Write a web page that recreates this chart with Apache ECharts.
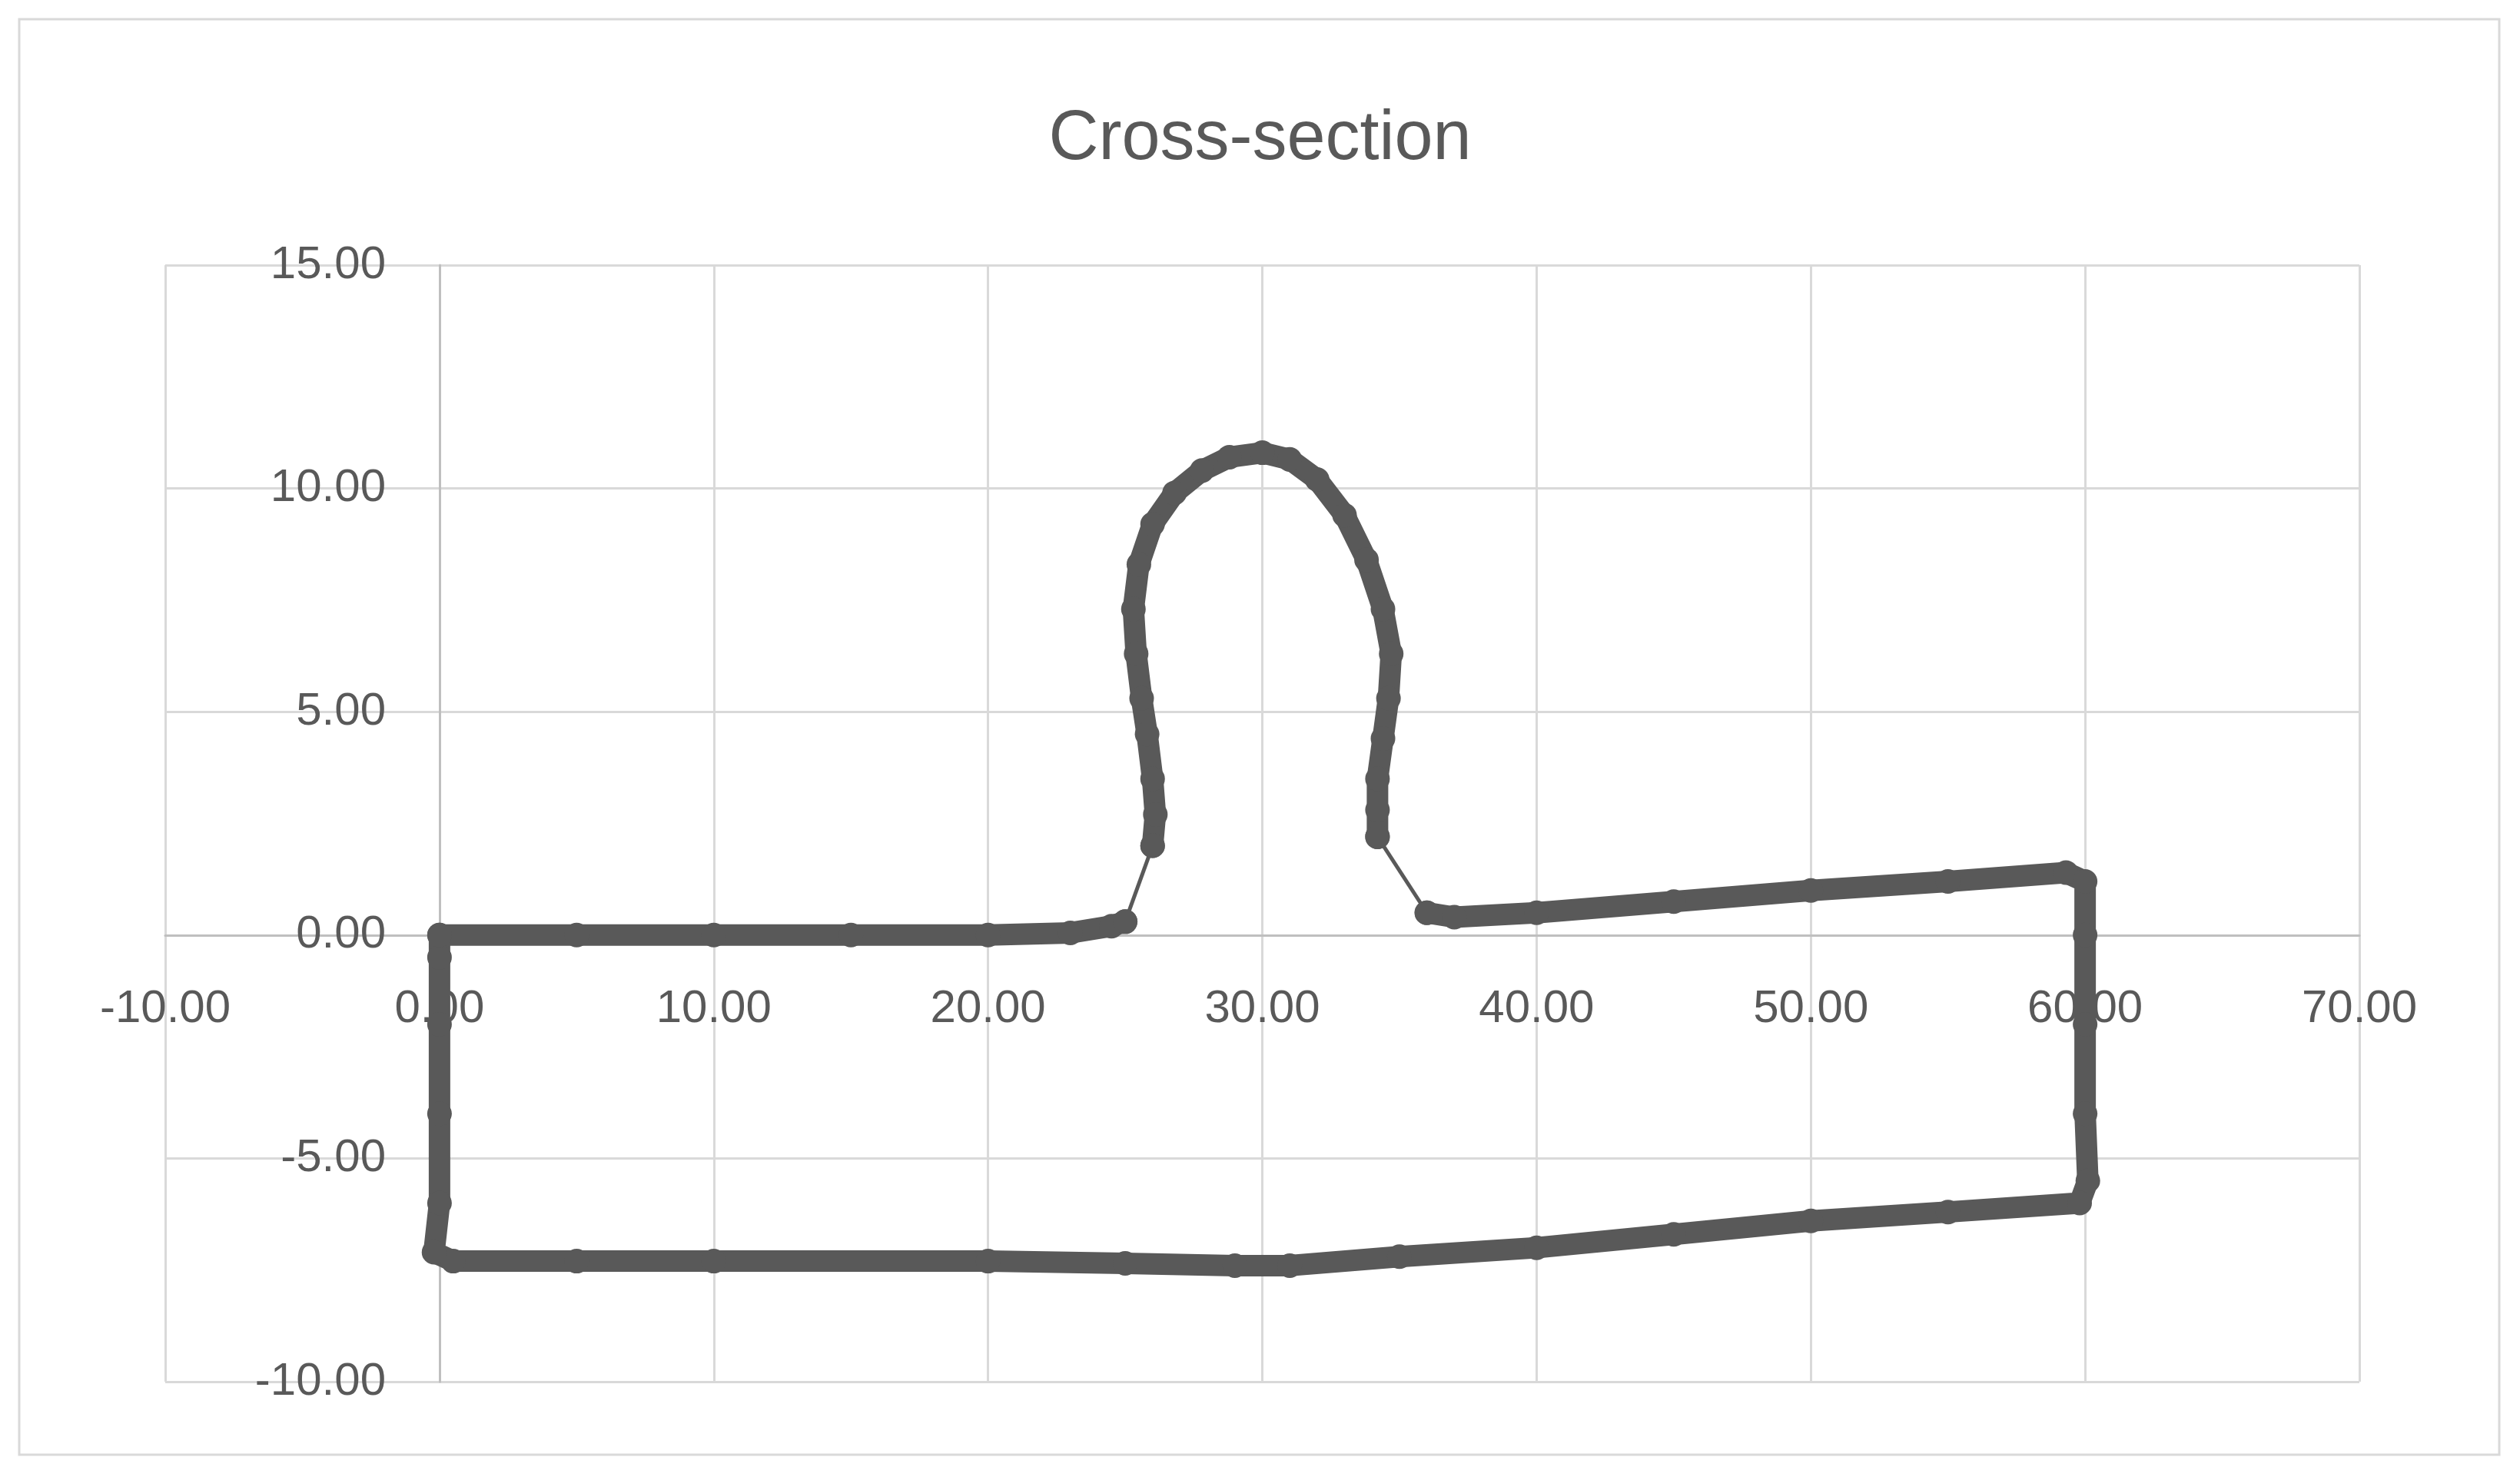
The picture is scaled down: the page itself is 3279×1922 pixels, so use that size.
<!DOCTYPE html>
<html><head><meta charset="utf-8">
<script src="https://cdn.jsdelivr.net/npm/echarts@6/dist/echarts.min.js"></script>
<style>html,body{margin:0;background:#fff}#c{width:3279px;height:1922px}</style>
</head><body><div id="c"></div>
<script>
// cross-section outline, split where the reference shows thin connectors
const flatLeft = [[0,0],[5,0],[10,0],[15,0],[20,0],[23,0.05],[24.5,0.2],[25,0.3]];
const connLeft = [[25,0.3],[26,2]];
const arch = [[26,2],[26.1,2.7],[26,3.5],[25.8,4.5],[25.6,5.3],[25.4,6.3],[25.3,7.3],[25.5,8.3],
  [26,9.2],[26.8,9.9],[27.8,10.4],[28.8,10.7],[30,10.8],[31,10.65],[32,10.2],[33,9.4],
  [33.8,8.4],[34.4,7.3],[34.7,6.3],[34.6,5.3],[34.4,4.4],[34.2,3.5],[34.2,2.8],[34.2,2.2]];
const connRight = [[34.2,2.2],[36,0.5]];
const rest = [[36,0.5],[37,0.4],[40,0.5],[45,0.75],[50,1],[55,1.2],[59.3,1.4],[60,1.2],
  [60,0],[60,-2],[60,-4],[60.1,-5.5],[59.8,-6],[55,-6.2],[50,-6.4],[45,-6.7],[40,-7],
  [35,-7.2],[31,-7.4],[29,-7.4],[25,-7.35],[20,-7.3],[10,-7.3],[5,-7.3],[0.5,-7.3],
  [-0.2,-7.1],[0,-6],[0,-4],[0,-2],[0,-0.5],[0,0]];

const grey = '#595959';
function thick(d){return {type:'line',data:d,symbol:'circle',symbolSize:32,showAllSymbol:true,
  itemStyle:{color:grey},lineStyle:{color:grey,width:28,cap:'round',join:'round'}};}
function thin(d){return {type:'line',data:d,symbol:'circle',symbolSize:32,
  itemStyle:{color:grey},lineStyle:{color:grey,width:5}};}

const font = 'Liberation Sans';
const chart = echarts.init(document.getElementById('c'));
chart.setOption({
  animation:false,
  title:{text:'Cross-section',left:'center',top:132,
    textStyle:{fontFamily:font,fontSize:90,fontWeight:'normal',color:grey}},
  graphic:[{type:'rect',shape:{x:25,y:25,width:3227,height:1868},
    style:{fill:'none',stroke:'#d9d9d9',lineWidth:3}}],
  grid:{left:215,right:209,top:345,bottom:124},
  xAxis:{type:'value',min:-10,max:70,interval:10,
    axisLine:{onZero:true,lineStyle:{color:'#bfbfbf',width:3}},axisTick:{show:false},
    splitLine:{lineStyle:{color:'#d9d9d9',width:3}},
    axisLabel:{fontFamily:font,fontSize:60,color:grey,margin:-515,formatter:v=>v.toFixed(2)}},
  yAxis:{type:'value',min:-10,max:15,interval:5,
    axisLine:{onZero:true,lineStyle:{color:'#bfbfbf',width:3}},axisTick:{show:false},
    splitLine:{lineStyle:{color:'#d9d9d9',width:3}},
    axisLabel:{fontFamily:font,fontSize:60,color:grey,margin:-287,formatter:v=>v.toFixed(2)}},
  series:[thick(flatLeft),thin(connLeft),thick(arch),thin(connRight),thick(rest)]
});
</script></body></html>
